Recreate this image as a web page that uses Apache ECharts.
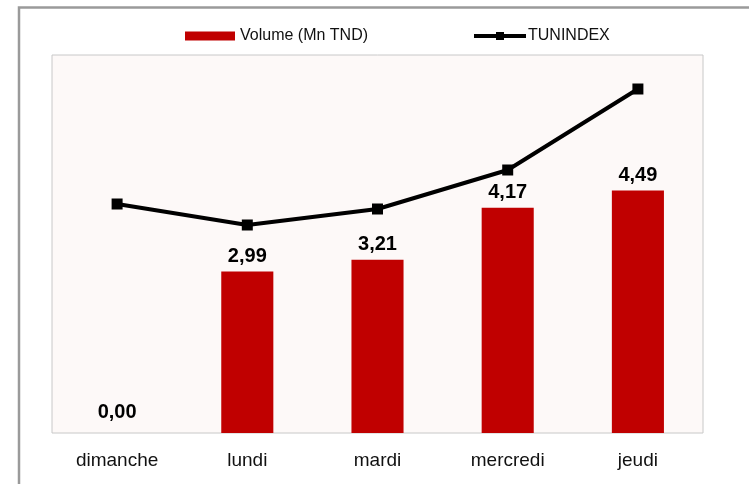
<!DOCTYPE html>
<html>
<head>
<meta charset="utf-8">
<script src="https://cdn.jsdelivr.net/npm/echarts@6/dist/echarts.min.js"></script>
<style>
html,body{margin:0;padding:0;background:#fff;}
#c{width:749px;height:484px;}
</style>
</head>
<body>
<div id="c"></div>
<script>
const categories = ['dimanche', 'lundi', 'mardi', 'mercredi', 'jeudi'];
const volume = [0.00, 2.99, 3.21, 4.17, 4.49];
const tunindex = [7250, 7229, 7245, 7284, 7365];

const chart = echarts.init(document.getElementById('c'), null, {renderer: 'canvas'});
const FONT = "'Liberation Sans', Arial, sans-serif";
const barData = volume.map(v => v === 0 ? {value: v, label: {distance: 11}} : v);
chart.setOption({
  animation: false,
  backgroundColor: '#ffffff',
  textStyle: {fontFamily: FONT},
  graphic: [{
    type: 'polyline',
    shape: {points: [[19, 484], [19, 7.5], [749, 7.5]]},
    style: {stroke: '#9a9a9a', lineWidth: 2.5, fill: null},
    silent: true
  }],
  legend: [{
    data: [{name: 'Volume (Mn TND)', icon: 'rect'}],
    left: 180, top: 23,
    itemWidth: 50, itemHeight: 9, itemGap: 0,
    textStyle: {fontSize: 16, color: '#111', fontFamily: FONT}
  }, {
    data: ['TUNINDEX'],
    left: 467, top: 23,
    itemWidth: 52, itemHeight: 10, itemGap: 0,
    lineStyle: {width: 4, color: '#000'},
    itemStyle: {color: '#000'},
    textStyle: {fontSize: 16, color: '#111', fontFamily: FONT, padding: [0, 0, 0, -3]}
  }],
  grid: {
    left: 52, right: 46, top: 55, bottom: 51,
    show: true, backgroundColor: '#fdf9f8', borderColor: '#c8c8c8', borderWidth: 1
  },
  xAxis: {
    type: 'category',
    data: categories,
    axisLine: {show: false},
    axisTick: {show: false},
    axisLabel: {fontSize: 19, color: '#111', margin: 18, fontFamily: FONT}
  },
  yAxis: [{
    type: 'value', min: 0, max: 7, show: false, splitLine: {show: false}
  }, {
    type: 'value', min: 7021, max: 7399, show: false, splitLine: {show: false}
  }],
  series: [{
    name: 'Volume (Mn TND)',
    type: 'bar',
    data: barData,
    barWidth: '40%',
    itemStyle: {color: '#c00000'},
    label: {
      show: true, position: 'top', distance: 5,
      fontSize: 20, fontWeight: 'bold', color: '#000', fontFamily: FONT,
      formatter: p => Number(p.value).toFixed(2).replace('.', ',')
    }
  }, {
    name: 'TUNINDEX',
    type: 'line',
    yAxisIndex: 1,
    data: tunindex,
    symbol: 'rect',
    symbolSize: 11,
    lineStyle: {color: '#000', width: 4},
    itemStyle: {color: '#000'}
  }]
});
</script>
</body>
</html>
